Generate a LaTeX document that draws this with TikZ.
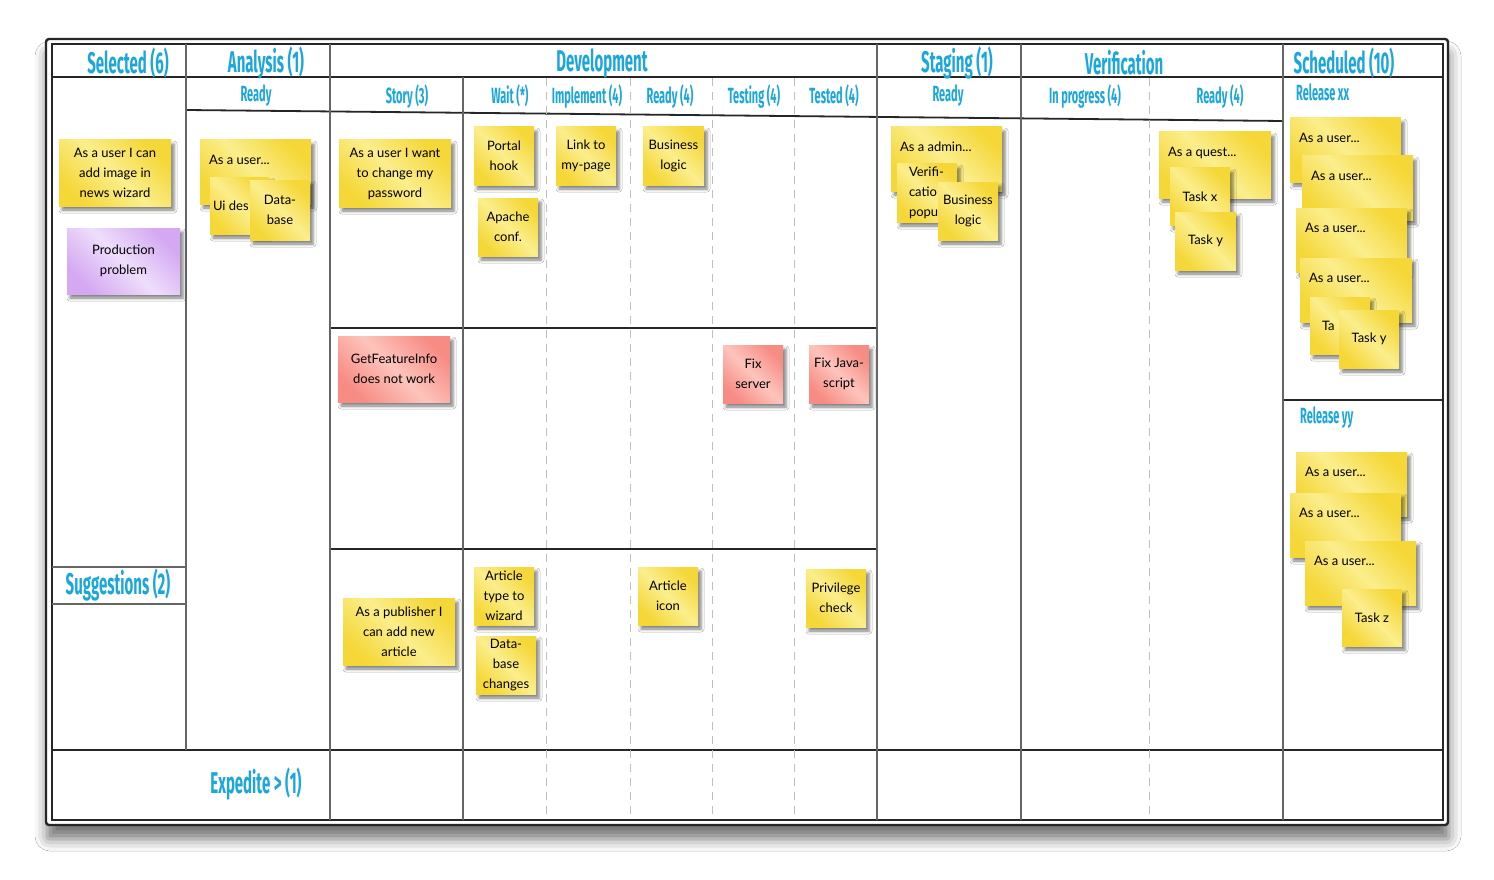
\documentclass[tikz,border=0pt]{standalone}
\usepackage{fontspec}
\setmainfont{Lato}
\newfontfamily\hdfont{Fira Sans}[FakeStretch=0.5]
\newfontfamily\nfont{Lato}
\usetikzlibrary{shadows.blur}
\definecolor{hcyan}{RGB}{27,166,220}
\definecolor{yD}{RGB}{245,215,55}
\definecolor{yL}{RGB}{251,238,140}
\definecolor{rD}{RGB}{247,140,132}
\definecolor{rL}{RGB}{253,196,188}
\definecolor{pD}{RGB}{212,168,242}
\definecolor{pL}{RGB}{238,222,251}
\pgfdeclarehorizontalshading{yelsh}{100bp}{color(0bp)=(yD); color(25bp)=(yD); color(50bp)=(yL); color(75bp)=(yD); color(100bp)=(yD)}
\pgfdeclarehorizontalshading{redsh}{100bp}{color(0bp)=(rD); color(25bp)=(rD); color(50bp)=(rL); color(75bp)=(rD); color(100bp)=(rD)}
\pgfdeclarehorizontalshading{pursh}{100bp}{color(0bp)=(pD); color(25bp)=(pD); color(50bp)=(pL); color(75bp)=(pD); color(100bp)=(pD)}
\newcommand\nf{\nfont\fontsize{13}{20}\selectfont}
\tikzset{
  hd/.style={font=\hdfont\bfseries\fontsize{30}{30}\selectfont, text=hcyan, inner sep=0pt},
  sh/.style={font=\hdfont\bfseries\fontsize{22}{22}\selectfont, text=hcyan, inner sep=0pt},
  note/.style={shading=yelsh, shading angle=45,
    blur shadow={shadow xshift=3pt, shadow yshift=-4pt, shadow blur radius=3pt, shadow opacity=50},
    inner sep=0pt, align=center, font=\nf, text=black},
  bignote/.style={note, minimum width=111pt, minimum height=64pt},
  smallnote/.style={note, minimum width=60pt, minimum height=58pt},
  rednote/.style={shading=redsh},
  purnote/.style={shading=pursh},
  lbl/.style={anchor=north west, inner sep=0pt, font=\nf, text=black, xshift=9pt, yshift=-15pt},
  lblw/.style={anchor=west, inner sep=0pt, font=\nf, text=black, align=left},
  hline/.style={line width=1.8pt, black!85},
  vline/.style={line width=1.5pt, black!60},
  dline/.style={line width=1pt, black!25, dash pattern=on 8pt off 6pt},
}
\begin{document}
\begin{tikzpicture}[x=1pt,y=-1pt]
\useasboundingbox (0,0) rectangle (1494,880);
\fill[white] (0,0) rectangle (1494,880);
% board
\path[blur shadow={shadow xshift=1pt, shadow yshift=-14pt, shadow blur radius=12pt, shadow opacity=55},
  fill=white, draw=black!85, line width=2.4pt, rounded corners=3pt] (46,39) rectangle (1448,825);
\draw[line width=1.6pt, black!85] (52,44) rectangle (1443,820);
% horizontal lines
\draw[hline] (52,77) -- (1443,77);
\draw[hline] (186,110) -- (1283,121);
\draw[hline] (330,328) -- (877,328);
\draw[hline] (330,549) -- (877,549);
\draw[hline] (52,750) -- (1443,750);
\draw[hline] (1283,400) -- (1443,400);
\draw[vline] (52,567) -- (186,567);
\draw[vline] (52,604) -- (186,604);
% vertical lines
\draw[vline] (186,44) -- (186,750);
\draw[vline] (330,44) -- (330,820);
\draw[vline] (463,77) -- (463,820);
\draw[vline] (877,44) -- (877,820);
\draw[vline] (1021,44) -- (1021,820);
\draw[vline] (1283,44) -- (1283,820);
\foreach \xx in {546,630,712,794,1149} \draw[dline] (\xx,78) -- (\xx,819);
% headers
\node[hd] (hsel) at (128,63) {Selected (6)};
\node[hd] (hana) at (266,63) {Analysis (1)};
\node[hd] (hdev) at (602,63) {Development};
\node[hd] (hstg) at (957,63) {Staging (1)};
\node[hd] (hver) at (1124,63) {Verification};
\node[hd] (hsch) at (1344,63) {Scheduled (10)};
\node[sh] (sana) at (256,96) {Ready};
\node[sh] (ssto) at (407,96) {Story (3)};
\node[sh] (swai) at (510,96) {Wait (*)};
\node[sh] (simp) at (587,96) {Implement (4)};
\node[sh] (srea) at (670,96) {Ready (4)};
\node[sh] (stst) at (754,96) {Testing (4)};
\node[sh] (sted) at (834,96) {Tested (4)};
\node[sh] (sstg) at (948,96) {Ready};
\node[sh] (sinp) at (1085,96) {In progress (4)};
\node[sh] (sver) at (1220,96) {Ready (4)};
\node[sh, anchor=west] (srxx) at (1296,92) {Release xx};
\node[sh, anchor=west] (sryy) at (1300,418) {Release yy};
\node[hd] (hsug) at (118,585) {Suggestions (2)};
\node[hd] (hexp) at (256,784) {Expedite > (1)};
% Selected
\node[note, minimum width=112pt, minimum height=66pt] (n1) at (115,173) {As a user I can\\add image in\\news wizard};
\node[note, purnote, minimum width=113pt, minimum height=66pt] (n2) at (123.5,261) {Production\\problem};
% Analysis ready
\node[bignote, label={[lbl]north west:As a user...}] (n3) at (255.5,172) {};
\node[note, minimum width=59pt, minimum height=57pt, label={[lblw, xshift=3pt]west:Ui des}] (n4) at (239.5,205.5) {};
\node[smallnote, minimum height=60pt] (n5) at (280,210) {Data-\\base};
% Story
\node[note, minimum width=112pt, minimum height=67pt] (n6) at (395,173.5) {As a user I want\\to change my\\password};
\node[note, rednote, minimum width=112pt, minimum height=66pt] (n7) at (394,369) {GetFeatureInfo\\does not work};
\node[note, minimum width=112pt, minimum height=67pt] (n8) at (399,631.5) {As a publisher I\\can add new\\article};
% Wait
\node[smallnote] (n9) at (504,156) {Portal\\hook};
\node[smallnote] (n10) at (508,227) {Apache\\conf.};
\node[smallnote] (n11) at (504,596) {Article\\type to\\wizard};
\node[smallnote] (n12) at (506,665) {Data-\\base\\changes};
% Implement
\node[smallnote] (n13) at (586,156) {Link to\\my-page};
% Ready (4)
\node[smallnote, minimum width=61pt] (n14) at (673.5,156) {Business\\logic};
\node[smallnote] (n15) at (668,596) {Article\\icon};
% Testing / Tested
\node[smallnote, rednote] (n16) at (753,374) {Fix\\server};
\node[smallnote, rednote] (n17) at (839,374) {Fix Java-\\script};
\node[smallnote] (n18) at (836,598) {Privilege\\check};
% Staging
\node[bignote, label={[lbl]north west:As a admin...}] (n19) at (946.5,159) {};
\node[smallnote, label={[lblw, xshift=12pt]west:Verifi-\\catio\\popu}] (n20) at (927,193) {};
\node[smallnote] (n21) at (968,211) {Business\\logic};
% Verification ready
\node[note, minimum width=112pt, minimum height=66pt, label={[lbl]north west:As a quest...}] (n22) at (1215,165) {};
\node[note, minimum width=60pt, minimum height=57pt] (n23) at (1200,196.5) {Task x};
\node[smallnote, minimum width=61pt] (n24) at (1205.5,241) {Task y};
% Release xx
\node[bignote, label={[lbl]north west:As a user...}] (n25) at (1345.5,150) {};
\node[bignote, label={[lbl]north west:As a user...}] (n26) at (1357.5,188) {};
\node[bignote, label={[lbl]north west:As a user...}] (n27) at (1351.5,240) {};
\node[bignote, minimum width=112pt, label={[lbl]north west:As a user...}] (n28) at (1356,290) {};
\node[note, minimum width=60pt, minimum height=57pt, label={[lblw, xshift=12pt]west:Ta}] (n29) at (1340,325.5) {};
\node[smallnote] (n30) at (1369,339) {Task y};
% Release yy
\node[bignote, label={[lbl]north west:As a user...}] (n31) at (1351.5,484) {};
\node[bignote, label={[lbl]north west:As a user...}] (n32) at (1345.5,525) {};
\node[bignote, label={[lbl]north west:As a user...}] (n33) at (1360.5,573) {};
\node[note, minimum width=60pt, minimum height=57pt] (n34) at (1372,617.5) {Task z};
\end{tikzpicture}
\end{document}
